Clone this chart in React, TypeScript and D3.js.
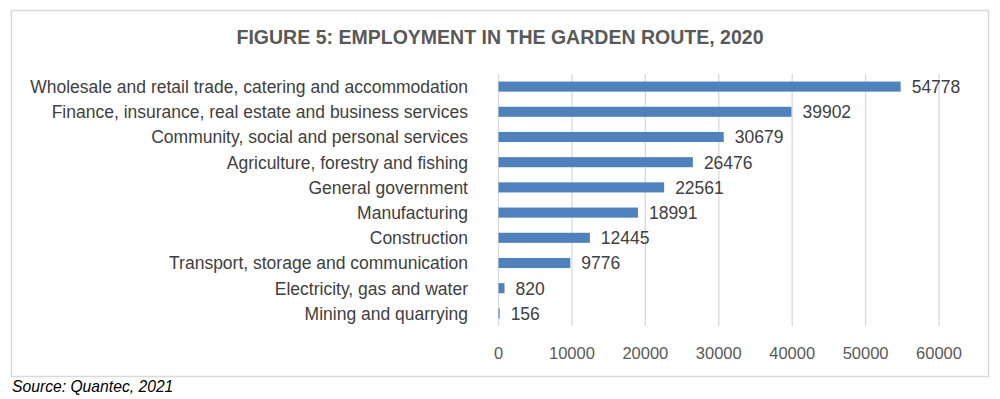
import { useEffect, useRef } from 'react'
import * as d3 from 'd3'

const categories = [
  'Wholesale and retail trade, catering and accommodation',
  'Finance, insurance, real estate and business services',
  'Community, social and personal services',
  'Agriculture, forestry and fishing',
  'General government',
  'Manufacturing',
  'Construction',
  'Transport, storage and communication',
  'Electricity, gas and water',
  'Mining and quarrying',
]
const employment = [54778, 39902, 30679, 26476, 22561, 18991, 12445, 9776, 820, 156]
const xTicks = [0, 10000, 20000, 30000, 40000, 50000, 60000]

const title = 'FIGURE 5: EMPLOYMENT IN THE GARDEN ROUTE, 2020'
const source = 'Source: Quantec, 2021'

const width = 1000
const height = 399
const margin = { top: 74, right: 61, bottom: 73, left: 498.5 }

const App = () => {
  const svgRef = useRef<SVGSVGElement>(null)

  useEffect(() => {
    if (!svgRef.current) return
    const svg = d3.select(svgRef.current)
    svg.selectAll('*').remove()

    const font = 'Arial, "Liberation Sans", sans-serif'

    // frame
    svg.append('rect')
      .attr('x', 11.5).attr('y', 10.5)
      .attr('width', 977).attr('height', 366)
      .attr('fill', '#fff')
      .attr('stroke', '#d9d9d9')
      .attr('stroke-width', 1.5)

    const x = d3.scaleLinear()
      .domain([0, 60000])
      .range([margin.left, width - margin.right])

    const y = d3.scaleBand()
      .domain(categories)
      .range([margin.top, height - margin.bottom])
      .paddingInner(0.6)
      .paddingOuter(0.3)

    // grid lines
    svg.append('g')
      .selectAll('line')
      .data(xTicks)
      .join('line')
      .attr('x1', d => x(d)).attr('x2', d => x(d))
      .attr('y1', margin.top).attr('y2', height - margin.bottom)
      .attr('stroke', '#d9d9d9')
      .attr('stroke-width', 1.3)

    // bars
    svg.append('g')
      .selectAll('rect')
      .data(employment)
      .join('rect')
      .attr('x', x(0))
      .attr('y', (_, i) => y(categories[i]) || 0)
      .attr('width', d => x(d) - x(0))
      .attr('height', y.bandwidth())
      .attr('fill', '#4f81bd')

    // value labels
    svg.append('g')
      .selectAll('text')
      .data(employment)
      .join('text')
      .attr('x', d => x(d) + 11)
      .attr('y', (_, i) => (y(categories[i]) || 0) + y.bandwidth() / 2)
      .attr('dy', '0.36em')
      .attr('font-family', font)
      .attr('font-size', 17.5)
      .attr('fill', '#404040')
      .text(d => d)

    // category labels
    svg.append('g')
      .selectAll('text')
      .data(categories)
      .join('text')
      .attr('x', 468)
      .attr('y', d => (y(d) || 0) + y.bandwidth() / 2)
      .attr('dy', '0.36em')
      .attr('text-anchor', 'end')
      .attr('font-family', font)
      .attr('font-size', 17.5)
      .attr('fill', '#404040')
      .text(d => d)

    // x tick labels
    svg.append('g')
      .selectAll('text')
      .data(xTicks)
      .join('text')
      .attr('x', d => x(d))
      .attr('y', 353)
      .attr('dy', '0.36em')
      .attr('text-anchor', 'middle')
      .attr('font-family', font)
      .attr('font-size', 16.5)
      .attr('fill', '#595959')
      .text(d => d)

    // title
    svg.append('text')
      .attr('x', 500)
      .attr('y', 37)
      .attr('dy', '0.36em')
      .attr('text-anchor', 'middle')
      .attr('font-family', '"Liberation Sans Narrow", "Arial Narrow", Arial, sans-serif')
      .attr('font-weight', 'bold')
      .attr('font-size', 20)
      .attr('fill', '#595959')
      .attr('textLength', 527)
      .attr('lengthAdjust', 'spacingAndGlyphs')
      .text(title)

    // source
    svg.append('text')
      .attr('x', 12)
      .attr('y', 392)
      .attr('font-family', font)
      .attr('font-style', 'italic')
      .attr('font-size', 15.7)
      .attr('fill', '#000')
      .text(source)
  }, [])

  return (
    <svg
      ref={svgRef}
      width={width}
      height={height}
      style={{ position: 'absolute', left: 0, top: 0, display: 'block' }}
    />
  )
}

export default App
